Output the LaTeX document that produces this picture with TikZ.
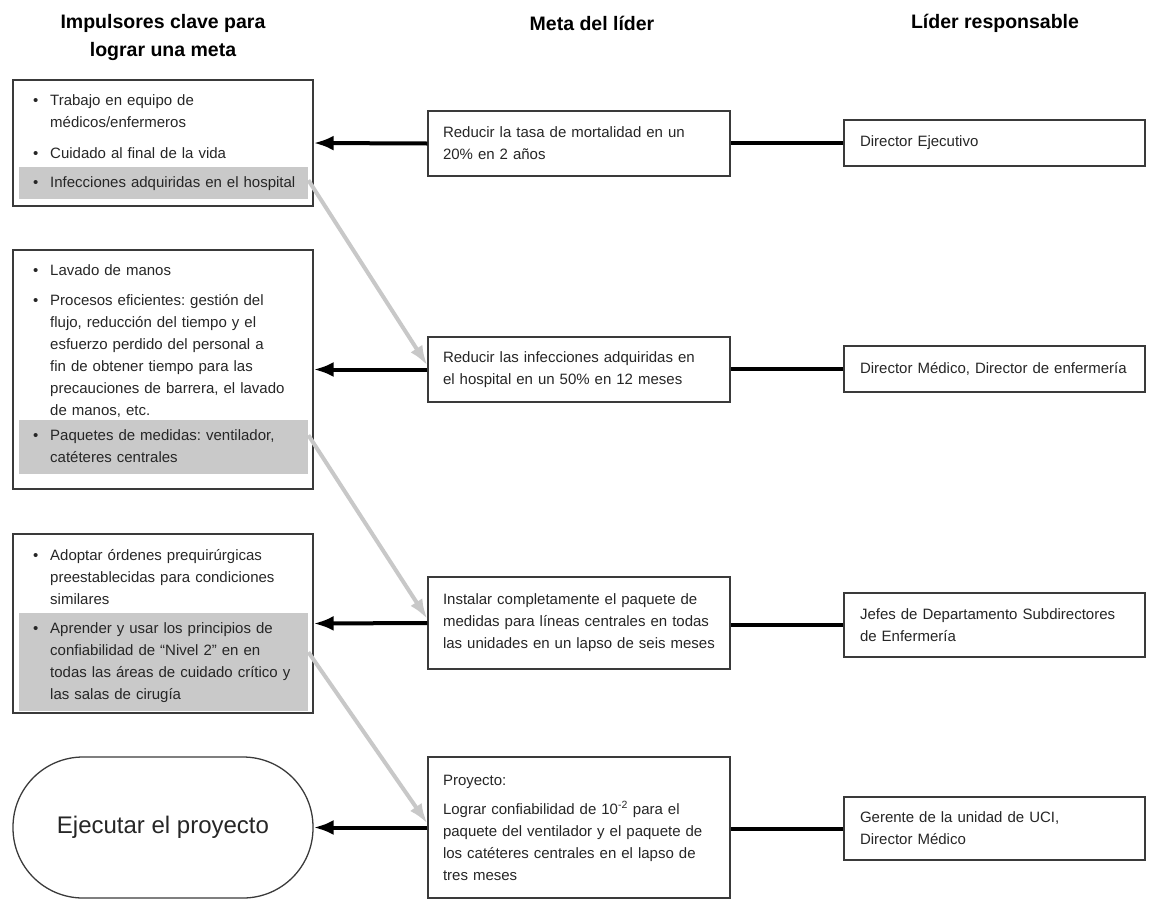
\documentclass[tikz,border=0pt]{standalone}
\usepackage{fontspec}
\setmainfont{Liberation Sans}
\usetikzlibrary{arrows.meta,calc}
\frenchspacing

\definecolor{boxline}{HTML}{3A3A3A}
\definecolor{hlfill}{HTML}{C9C9C9}
\definecolor{greyarrow}{HTML}{C8C8C8}
\definecolor{bodytext}{HTML}{262626}

% one bullet point with hanging indent
\newcommand\bitem[1]{\hspace*{14pt}\makebox[17pt][l]{\textbullet}\parbox[t]{258pt}{\raggedright\strut #1\strut}}

\begin{document}
\begin{tikzpicture}[x=1pt,y=-1pt,
  body/.style={font=\fontsize{15}{22}\selectfont, text=bodytext},
  head/.style={font=\fontsize{19.5}{28}\selectfont\bfseries, align=center, inner sep=0pt},
  lbox/.style={draw=boxline, line width=1.3pt, minimum width=300, inner sep=0pt},
  item/.style={body, anchor=north west, text width=289pt, inner xsep=0pt, inner ysep=5pt, align=left},
  hl/.style={item, fill=hlfill},
  goal/.style={draw=boxline, line width=1.3pt, rounded corners=70pt, minimum width=300, minimum height=141,
    font=\fontsize{24}{28}\selectfont, text=bodytext},
  midbox/.style={body, draw=boxline, line width=1.3pt, fill=white, text width=272pt, inner xsep=15pt, inner ysep=0pt, align=left},
  leadbox/.style={body, draw=boxline, line width=1.3pt, fill=white, text width=269pt, inner xsep=16pt, inner ysep=0pt, align=left},
  blackarrow/.style={line width=4pt, -{Latex[length=20pt,width=15pt]}},
  plainlink/.style={line width=4pt},
  greylink/.style={draw=greyarrow, line width=4pt, -{Latex[length=20pt,width=14pt]}}
]
\useasboundingbox (0,0) rectangle (1150,900);

% column headings
\node[head] (h1) at (163,37) {Impulsores clave para\\lograr una meta};
\node[head] (h2) at (592,23) {Meta del líder};
\node[head] (h3) at (995,23) {Líder responsable};

% left column: key drivers
\node[lbox, minimum height=126] (l1) at (163,143) {};
\node[item] (l1a) at (19,85) {\bitem{Trabajo en equipo de\\médicos/enfermeros}};
\node[item] (l1b) at (19,138) {\bitem{Cuidado al final de la vida}};
\node[hl] (hl1) at (19,167) {\bitem{Infecciones adquiridas en el hospital}};

\node[lbox, minimum height=239] (l2) at (163,369.5) {};
\node[item] (l2a) at (19,255) {\bitem{Lavado de manos}};
\node[item] (l2b) at (19,285) {\bitem{Procesos eficientes: gestión del\\flujo, reducción del tiempo y el\\esfuerzo perdido del personal a\\fin de obtener tiempo para las\\precauciones de barrera, el lavado\\de manos, etc.}};
\node[hl] (hl2) at (19,420) {\bitem{Paquetes de medidas: ventilador,\\catéteres centrales}};

\node[lbox, minimum height=179] (l3) at (163,623.5) {};
\node[item] (l3a) at (19,540) {\bitem{Adoptar órdenes prequirúrgicas\\preestablecidas para condiciones\\similares}};
\node[hl] (hl3) at (19,613) {\bitem{Aprender y usar los principios de\\confiabilidad de “Nivel 2” en en\\todas las áreas de cuidado crítico y\\las salas de cirugía}};

\node[goal] (l4) at (163,827.5) {Ejecutar el proyecto};

% middle column: leader goals
\node[midbox, minimum height=65] (m1) at (579,143.5) {Reducir la tasa de mortalidad en un\\20\% en 2 años};
\node[midbox, minimum height=65] (m2) at (579,369.5) {Reducir las infecciones adquiridas en\\el hospital en un 50\% en 12 meses};
\node[midbox, minimum height=92] (m3) at (579,623) {Instalar completamente el paquete de\\medidas para líneas centrales en todas\\las unidades en un lapso de seis meses};
\node[midbox, minimum height=141] (m4) at (579,827.5) {Proyecto:\\[7pt]Lograr confiabilidad de 10\textsuperscript{-2} para el\\paquete del ventilador y el paquete de\\los catéteres centrales en el lapso de\\tres meses};

% right column: responsible leaders
\node[leadbox, minimum height=46] (r1) at (994.5,143) {Director Ejecutivo};
\node[leadbox, minimum height=46] (r2) at (994.5,369) {Director Médico, Director de enfermería};
\node[leadbox, minimum height=64] (r3) at (994.5,625) {Jefes de Departamento Subdirectores\\de Enfermería};
\node[leadbox, minimum height=63] (r4) at (994.5,828.5) {Gerente de la unidad de UCI,\\Director Médico};

% links from leaders to goals
\draw[plainlink] (r1.west) -- (r1.west -| m1.east);
\draw[plainlink] (r2.west) -- (r2.west -| m2.east);
\draw[plainlink] (r3.west) -- (r3.west -| m3.east);
\draw[plainlink] (r4.west) -- (r4.west -| m4.east);

% goals to drivers
\draw[blackarrow] (m1.west) -- (l1.east);
\draw[blackarrow] (m2.west) -- (l2.east);
\draw[blackarrow] (m3.west) -- (l3.east);
\draw[blackarrow] (m4.west) -- (l4.east);

% highlighted drivers cascade into the next goal
\draw[greylink] ($(hl1.east)+(0,-3)$) -- ($(m2.west)+(0,-4)$);
\draw[greylink] ($(hl2.east)+(0,-12)$) -- ($(m3.west)+(0,-4)$);
\draw[greylink] ($(hl3.east)+(0,-10)$) -- ($(m4.west)+(0,-4)$);
\end{tikzpicture}
\end{document}
